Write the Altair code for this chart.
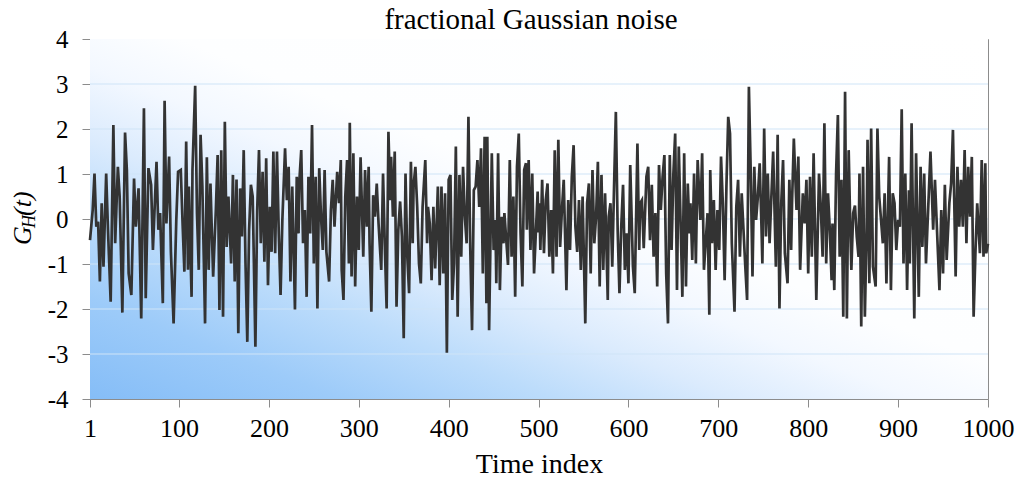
import altair as alt
import pandas as pd

# ---- data (time index, value) ----
t1 = [1, 4, 6, 8, 10, 12, 14, 16, 19, 21, 24, 27, 29, 32, 34, 37, 40, 42, 44, 47, 50, 52, 55, 58, 61, 63, 66, 69, 71, 75, 77, 79, 82, 84, 86, 89, 91, 94, 97, 99, 102, 104, 106, 108]
g1 = [-0.47, 0.20, 1.01, -0.17, -0.06, -1.39, 0.35, -1.06, 1.01, -0.24, -1.84, 2.09, -0.54, 1.16, 0.50, -2.08, 1.92, 1.09, -1.21, -1.69, 0.90, -0.17, 0.68, -2.21, 2.46, -1.76, 1.13, 0.76, -0.69, 1.27, -0.24, 0.13, -1.87, 2.63, -0.10, 1.39, -0.73, -2.32, -0.02, 1.05, 1.09, -0.10, -1.17, 1.72]

t2 = [110, 111, 114, 115, 118, 120, 122, 124, 126, 129, 131, 133, 135, 138, 141, 143, 145, 147, 149, 151, 153, 155, 158, 160, 162, 164, 166, 168, 170, 172, 174, 176, 178, 180, 182, 185, 187, 189, 191, 193, 195, 197, 199, 201, 203, 205, 207, 209, 211, 213, 215, 218, 220]
g2 = [-1.13, 0.72, -1.73, 1.09, 2.96, 0.13, -1.13, 1.87, 0.72, -2.32, 1.37, -1.13, 0.79, -1.28, 0.20, 1.42, -2.02, 1.53, -2.17, 2.16, -0.62, 0.50, -0.99, 0.98, -1.39, 0.88, -2.54, 0.68, -0.39, 1.53, -0.99, -2.73, -0.24, 0.76, 0.50, -2.84, 0.20, 1.53, -0.54, 1.05, -0.95, 1.35, -1.47, 0.27, -0.73, 1.50, -0.76, 1.50, -0.32, -1.69, -0.02, 1.57, 0.42]

t3 = [222, 224, 226, 229, 231, 233, 234, 236, 238, 240, 242, 244, 246, 248, 250, 252, 254, 256, 258, 260, 262, 264, 267, 269, 271, 273, 276, 278, 280, 281, 283, 285, 287, 289, 290, 292, 294, 296, 298, 300, 302, 305, 307, 309, 311, 312, 314, 316, 318, 320, 322, 325, 327, 329, 331]
g3 = [1.16, -1.39, 0.72, -2.01, 0.94, -0.32, 0.87, 1.53, -0.54, 0.20, -1.73, 0.94, -0.32, 2.09, -0.99, 0.94, -1.99, 1.13, 0.05, -0.69, 1.09, -0.73, -1.39, 0.20, 0.87, -0.17, 1.05, 0.35, 1.31, -1.13, -1.80, 0.50, 1.31, -0.99, 2.14, -1.28, 1.46, -1.50, 0.50, -0.69, 1.37, -0.84, 1.09, -0.17, 1.16, -0.54, -2.06, 0.53, 0.05, 0.79, -0.10, -1.13, 1.01, -0.62, -1.99]

t4 = [333, 335, 336, 338, 340, 342, 344, 346, 348, 350, 352, 354, 356, 358, 360, 361, 363, 365, 367, 369, 371, 374, 376, 377, 379, 381, 383, 385, 388, 390, 392, 394, 396, 398, 400, 402, 404, 406, 408, 410, 412, 414, 416, 418, 420, 422, 424, 426, 428, 430, 432, 434, 436, 438, 440, 442]
g4 = [1.94, 0.42, 1.38, 0.05, 1.50, -1.95, -0.24, 0.39, -0.39, -2.65, 1.01, -0.84, -1.65, 1.27, -0.54, 0.76, 1.16, 0.27, -0.99, -1.43, 0.27, 1.31, -0.54, 0.27, -0.10, -1.36, 0.27, -1.10, 0.72, -1.47, 0.72, -1.21, 0.57, -2.97, 0.87, 0.98, -1.80, -0.99, 1.61, -2.17, 0.98, -0.84, 1.16, 0.05, -0.54, 2.27, -0.62, -2.47, 0.64, 0.72, 1.31, 0.27, 1.57, -1.21, 1.83, -1.87]

t5 = [443, 445, 448, 450, 452, 453, 455, 457, 459, 461, 462, 466, 468, 470, 472, 474, 476, 478, 480, 482, 484, 486, 487, 489, 491, 493, 495, 499, 500, 501, 502, 504, 506, 508, 510, 512, 514, 516, 518, 520, 522, 524, 526, 528, 531, 533, 535, 537, 539, 541, 543, 545, 547, 549, 552]
g5 = [1.83, -2.47, 1.46, -0.69, -0.02, -1.43, 1.46, -1.58, 0.05, -0.54, 0.13, -1.02, 1.31, -0.84, 0.50, -1.73, 1.16, 1.90, -0.32, -1.50, 1.09, 1.24, -0.24, 1.31, -0.69, 1.01, -1.21, 0.61, -0.30, 0.35, -0.69, 0.87, -0.76, 0.42, 0.79, -0.84, 0.20, -1.21, 1.53, -0.84, 1.76, -0.62, 0.20, 0.87, -1.58, 0.42, -0.69, 0.94, 1.64, -0.17, -0.73, 0.42, -1.13, 0.50, -2.32]

t6 = [554, 556, 558, 560, 562, 564, 566, 568, 570, 572, 574, 577, 578, 580, 582, 584, 586, 588, 590, 592, 594, 596, 598, 600, 602, 605, 607, 610, 612, 613, 615, 617, 620, 622, 624, 626, 628, 630, 632, 634, 636, 638, 640, 642, 644, 646, 648, 650, 652, 654, 656, 660, 662]
g6 = [0.35, 0.79, -1.21, 1.09, -0.54, 0.05, 1.27, -1.50, 0.98, -1.13, 0.57, -1.80, 0.05, 0.35, -1.06, 0.72, 2.38, -0.24, -1.65, -0.17, 0.76, -1.13, -0.32, -1.43, 1.20, -1.06, -1.65, 1.68, -0.69, 0.35, 0.42, -0.65, 0.94, 1.16, -0.47, 0.76, -0.84, 0.13, -1.50, 1.20, 0.20, 0.94, 1.42, -1.21, -2.32, 1.42, -0.69, 1.01, 1.90, -1.58, 1.61, -1.73, 1.46]

t7 = [664, 666, 668, 669, 671, 673, 675, 677, 680, 682, 684, 688, 690, 691, 693, 695, 697, 699, 701, 703, 705, 707, 709, 711, 713, 715, 718, 720, 722, 724, 726, 730, 732, 734, 736, 738, 740, 742, 744, 746, 748, 749, 751, 753, 755, 757, 759, 761, 764, 766, 768, 770, 772, 774]
g7 = [-1.50, 0.79, -0.32, 0.35, -0.91, 1.01, -0.99, 1.31, -0.02, 1.46, -1.13, 0.13, -2.13, 1.09, -0.54, 0.42, -1.13, 0.20, -0.69, 1.39, 0.35, -1.36, 0.72, 2.27, 1.90, -0.54, -2.06, 0.27, 0.87, -0.84, 0.57, -1.06, -1.80, 2.94, 1.09, -1.28, 1.16, -0.02, 0.50, 1.24, -0.17, -0.99, 2.01, -0.39, 1.01, -0.54, 0.50, 1.50, -1.06, 1.87, -1.99, 0.35, 1.31, -0.76]

t8 = [777, 779, 781, 782, 784, 787, 789, 791, 794, 796, 798, 800, 802, 804, 806, 809, 812, 814, 816, 818, 820, 822, 824, 826, 827, 829, 831, 833, 835, 837, 839, 841, 843, 845, 847, 848, 850, 852, 854, 856, 857, 859, 861, 863, 865, 866, 868, 870, 872, 875, 877, 879, 883, 885, 887]
g8 = [-1.43, 0.87, -0.69, 0.35, 1.79, 0.20, 1.39, -1.13, 0.57, -0.10, 0.87, -1.21, 0.94, -0.84, 1.46, -1.80, 1.01, 0.27, -0.84, 2.13, -0.99, 0.57, -0.24, -1.36, -0.10, -1.58, 1.01, 2.31, -0.84, 0.87, -2.17, 2.83, -2.21, 1.53, -0.39, -1.13, 0.13, 0.30, -0.40, -0.84, 1.01, -2.39, 1.16, -2.17, -0.24, 1.76, -1.43, 2.01, -1.06, -1.50, 2.01, 0.50, -0.54, 0.57, -1.43]

t9 = [890, 892, 894, 896, 898, 900, 902, 904, 906, 908, 910, 912, 913, 915, 918, 920, 923, 925, 927, 929, 931, 936, 939, 941, 946, 948, 950, 952, 954, 957, 959, 961, 964, 966, 968, 970, 972, 974, 976, 978, 980, 982, 984, 986, 988, 991, 993, 995, 997, 998, 1000]
g9 = [1.38, -1.58, 0.57, 0.35, -0.69, -0.02, -0.17, 2.44, -0.99, 1.01, -1.58, 0.64, -0.99, 2.13, -2.21, 1.46, -1.73, 1.16, -0.62, 1.01, -0.99, 1.50, -0.24, 0.87, -1.58, 0.20, -1.21, 0.76, -0.91, 0.35, 0.79, 1.98, -1.28, 1.16, -0.17, 0.87, -0.17, 1.53, -0.54, 1.16, 0.05, 1.38, -2.17, -0.76, 0.35, -0.76, 1.31, -0.84, 1.24, -0.76, -0.55]

x_ticks = [1, 100, 200, 300, 400, 500, 600, 700, 800, 900, 1000]
y_ticks = [-4, -3, -2, -1, 0, 1, 2, 3, 4]
grid_vals = [-3, -2, -1, 0, 1, 2, 3]

TITLE = "fractional Gaussian noise"
X_TITLE = "Time index"

df = pd.DataFrame({
    "t": t1 + t2 + t3 + t4 + t5 + t6 + t7 + t8 + t9,
    "g": g1 + g2 + g3 + g4 + g5 + g6 + g7 + g8 + g9,
})
grid_df = pd.DataFrame({"gv": grid_vals})

W, H = 898, 360
SERIF = "Liberation Serif"
AXIS_GREY = "#8c8c8c"

bg = alt.Gradient(
    gradient="linear", x1=0, y1=1, x2=1, y2=0,
    stops=[
        alt.GradientStop(offset=0.0, color="#85bdf7"),
        alt.GradientStop(offset=0.14, color="#9dcbf9"),
        alt.GradientStop(offset=0.26, color="#bcdcfb"),
        alt.GradientStop(offset=0.36, color="#dbebfd"),
        alt.GradientStop(offset=0.46, color="#f3f8ff"),
        alt.GradientStop(offset=0.55, color="#fdfeff"),
        alt.GradientStop(offset=1.0, color="#ffffff"),
    ],
)

xscale = alt.Scale(domain=[1, 1000], nice=False, zero=False)
yscale = alt.Scale(domain=[-4, 4], nice=False)
yaxis = alt.Axis(values=y_ticks, title=None, grid=False,
                 labelExpr="'' + datum.value", tickSize=8, labelPadding=14,
                 labelFontSize=25)

one = pd.DataFrame({"k": [0]})
back = alt.Chart(one).mark_rect(fill=bg, strokeWidth=0).encode(
    x=alt.value(0), x2=alt.value(W), y=alt.value(0), y2=alt.value(H))

grid = alt.Chart(grid_df).mark_rule(color="#cfe4f7", strokeWidth=1).encode(
    y=alt.Y("gv:Q", scale=yscale, axis=yaxis))

line = alt.Chart(df).mark_line(color="#333333", strokeWidth=2.7).encode(
    x=alt.X("t:Q", scale=xscale,
            axis=alt.Axis(values=x_ticks, title=X_TITLE, grid=False, labelFlush=False,
                          labelExpr="'' + datum.value", tickSize=8, labelPadding=8,
                          titlePadding=9, labelFontSize=26, titleFontSize=28)),
    y=alt.Y("g:Q", scale=yscale, axis=yaxis),
)

def txt(s, size, x, y, italic=True, angle=270, align="left"):
    return alt.Chart(one).mark_text(
        text=s, font=SERIF, fontSize=size, fontStyle="italic" if italic else "normal",
        angle=angle, align=align, baseline="alphabetic", color="black",
    ).encode(x=alt.value(x), y=alt.value(y))

ylabel = txt("G", 26, -59, 206) + txt("H", 18, -55, 189) + txt("(t)", 26, -59, 177)
title = txt(TITLE, 29, W / 2 - 8, -10, italic=False, angle=0, align="center")

chart = alt.layer(back, grid, line, ylabel, title).properties(
    width=W, height=H,
    autosize=alt.AutoSizeParams(type="none"),
    padding={"left": 90, "top": 39, "right": 33, "bottom": 78},
).configure_view(
    stroke=AXIS_GREY, strokeWidth=1,
).configure_axis(
    domainColor=AXIS_GREY, tickColor=AXIS_GREY, labelColor="black",
    labelFont=SERIF, titleFont=SERIF, titleColor="black", titleFontWeight="normal",
)

chart.save("out.html", embed_options={"renderer": "svg", "actions": False})
